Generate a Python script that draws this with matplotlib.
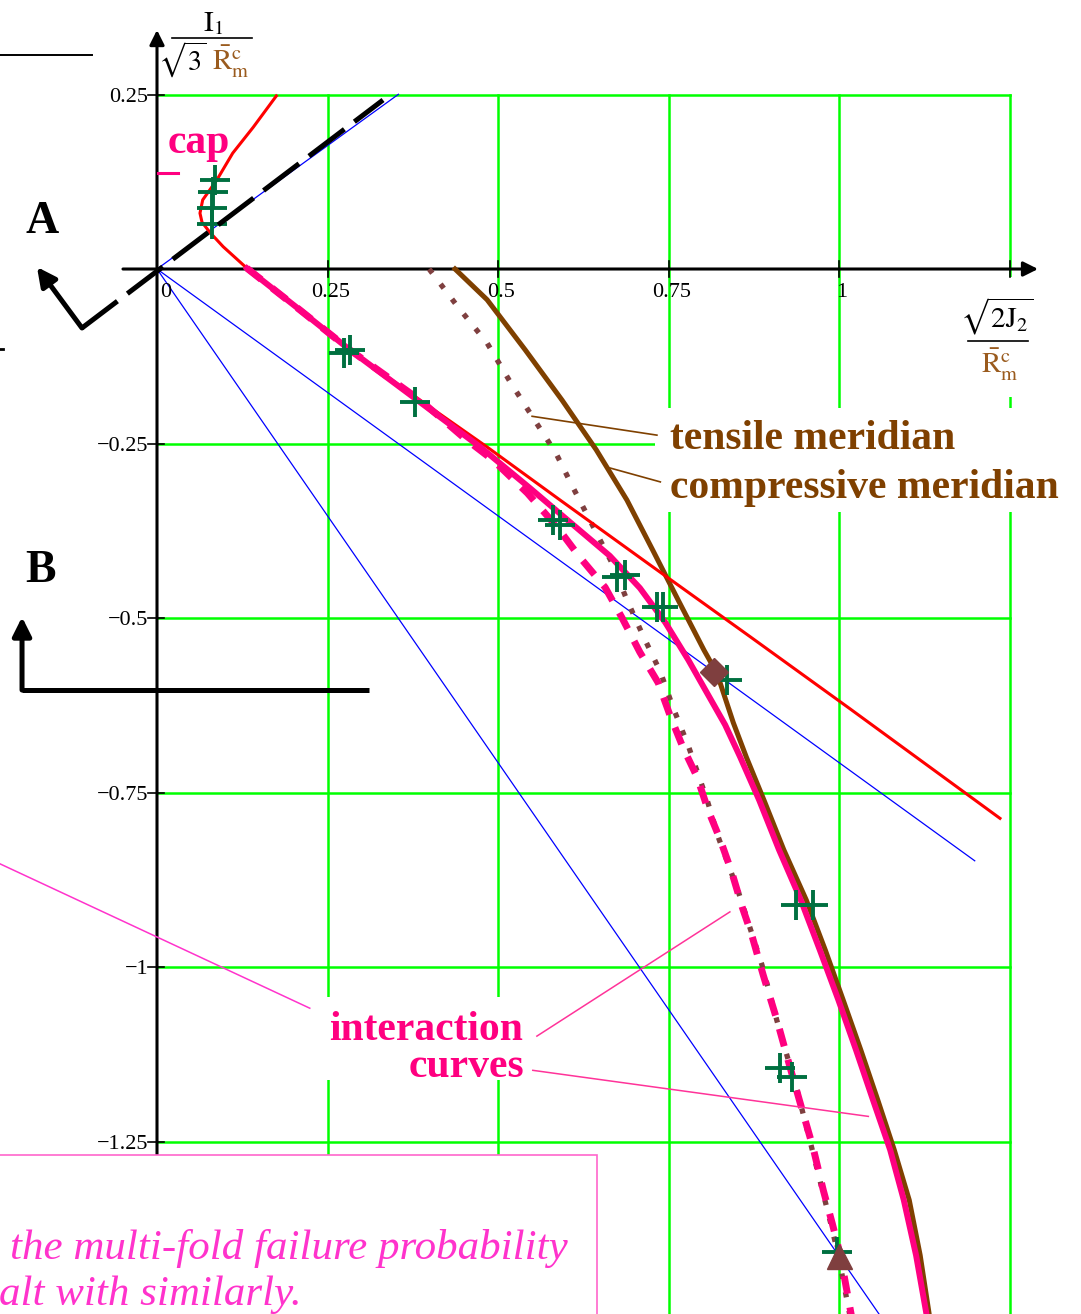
import numpy as np
import matplotlib.pyplot as plt
from matplotlib.patches import Rectangle

plt.rcParams['lines.scale_dashes'] = False
plt.rcParams['mathtext.fontset'] = 'stix'
plt.rcParams['font.family'] = ['Liberation Serif', 'DejaVu Serif']

# normalised stress invariants: x = sqrt(2 J2) / Rm_c, y = I1 / (sqrt(3) Rm_c)
grid_x = [0.25, 0.5, 0.75, 1.0, 1.25]
grid_y = [0.25, -0.25, -0.5, -0.75, -1.0, -1.25]
x_tick_labels = ['0.25', '0.5', '0.75', '1']
y_tick_labels = ['0.25', '\u22120.25', '\u22120.5', '\u22120.75', '\u22121', '\u22121.25']

# failure surface incl. cap
red_x = [0.175, 0.141, 0.111, 0.088, 0.067, 0.063, 0.066, 0.078, 0.097, 0.132,
         0.210, 0.283, 0.386, 0.484, 0.591, 0.723, 0.870, 1.016, 1.236]
red_y = [0.248, 0.203, 0.166, 0.128, 0.099, 0.080, 0.067, 0.052, 0.032, 0.001,
         -0.059, -0.116, -0.188, -0.255, -0.331, -0.424, -0.527, -0.630, -0.787]

# interaction curve (solid)
pink_x = [0.132, 0.210, 0.283, 0.386, 0.474, 0.547, 0.606, 0.664, 0.708, 0.745,
          0.779, 0.808, 0.833, 0.855, 0.883, 0.912, 0.944, 0.972, 0.999, 1.025,
          1.050, 1.075, 1.095, 1.113, 1.128, 1.132]
pink_y = [0.001, -0.059, -0.116, -0.191, -0.255, -0.314, -0.363, -0.411, -0.457, -0.506,
          -0.560, -0.610, -0.653, -0.699, -0.761, -0.832, -0.904, -0.976, -1.047, -1.119,
          -1.191, -1.262, -1.334, -1.413, -1.496, -1.527]

# interaction curve (dashed)
dash_x = [0.132, 0.210, 0.283, 0.386, 0.449, 0.493, 0.543, 0.587, 0.620, 0.657,
          0.682, 0.708, 0.735, 0.752, 0.771, 0.792, 0.808, 0.826, 0.843, 0.858,
          0.872, 0.889, 0.909, 0.928, 0.944, 0.962, 0.977, 0.990, 1.002, 1.022]
dash_y = [0.001, -0.059, -0.116, -0.188, -0.241, -0.274, -0.321, -0.370, -0.413, -0.456,
          -0.500, -0.549, -0.593, -0.639, -0.685, -0.728, -0.775, -0.818, -0.865, -0.914,
          -0.954, -1.012, -1.076, -1.143, -1.198, -1.259, -1.320, -1.367, -1.413, -1.520]

# compressive meridian
comp_x = [0.437, 0.484, 0.540, 0.594, 0.644, 0.689, 0.727, 0.764, 0.802, 0.821,
          0.845, 0.864, 0.890, 0.919, 0.952, 0.980, 1.006, 1.032, 1.057, 1.081,
          1.103, 1.119, 1.132, 1.136]
comp_y = [0.0, -0.044, -0.116, -0.188, -0.259, -0.331, -0.403, -0.474, -0.546, -0.579,
          -0.650, -0.699, -0.761, -0.832, -0.904, -0.976, -1.047, -1.119, -1.191, -1.262,
          -1.334, -1.413, -1.496, -1.527]

# tensile meridian
tens_x = [0.399, 0.441, 0.484, 0.518, 0.550, 0.585, 0.611, 0.639, 0.667, 0.689,
          0.713, 0.738, 0.757, 0.779, 0.807, 0.823, 0.853, 0.887, 0.909, 0.940,
          0.960, 0.987, 0.999, 1.020]
tens_y = [0.0, -0.054, -0.106, -0.162, -0.211, -0.264, -0.315, -0.368, -0.421, -0.474,
          -0.526, -0.577, -0.629, -0.683, -0.762, -0.814, -0.894, -0.997, -1.077, -1.182,
          -1.259, -1.364, -1.413, -1.520]

# test results
test_x = [0.085, 0.082, 0.081, 0.081, 0.283, 0.274, 0.378, 0.581, 0.591, 0.675,
          0.686, 0.733, 0.742, 0.836, 0.937, 0.962, 0.913, 0.931, 0.997]
test_y = [0.128, 0.110, 0.087, 0.065, -0.116, -0.120, -0.191, -0.360, -0.367, -0.441,
          -0.438, -0.484, -0.484, -0.589, -0.911, -0.911, -1.145, -1.158, -1.408]

# uniaxial compression and biaxial point
uni_pt = (0.8165, -0.5774)
bi_pt = (1.0, -1.414)

# reference lines through the origin
blue_slopes = [1 / np.sqrt(2), -1 / np.sqrt(2), -np.sqrt(2)]
blue_xend = [0.354, 1.199, 1.08]

fig = plt.figure(figsize=(10.81, 13.14), dpi=100)
ax = fig.add_axes([0, 0, 1, 1])
ax.set_xlim(-0.2302, 1.3548)
ax.set_ylim(-1.4971, 0.3854)
ax.axis('off')

green = '#00ff00'
pink = '#ff0080'
brown = '#7f4000'
maroon = '#7f3f3f'
rbrown = '#9a5b1e'

for gx in grid_x:
    ax.plot([gx, gx], [0.25, -1.55], color=green, lw=1.8, zorder=1)
for gy in grid_y:
    ax.plot([0, 1.25], [gy, gy], color=green, lw=1.8, zorder=1)

# white space behind labels
for (x0, y0, w, h) in [(0.7302, -0.3481, 0.70, 0.149),
                       (1.177, -0.1834, 0.20, 0.172),
                       (0.239, -1.162, 0.308, 0.119)]:
    ax.add_patch(Rectangle((x0, y0), w, h, facecolor='white', edgecolor='none', zorder=1.5))

# axes with arrows
ax.annotate('', xy=(0, 0.3424), xytext=(0, -1.30),
            arrowprops=dict(arrowstyle='-|>', color='k', lw=2.2, mutation_scale=22,
                            shrinkA=0, shrinkB=0), zorder=2.5)
ax.annotate('', xy=(1.2918, 0), xytext=(-0.0499, 0),
            arrowprops=dict(arrowstyle='-|>', color='k', lw=2.2, mutation_scale=22,
                            shrinkA=0, shrinkB=0), zorder=2.5)
for gx in grid_x:
    ax.plot([gx, gx], [0.011, -0.011], color='k', lw=1.2, zorder=2.6)
for gy in grid_y:
    ax.plot([-0.013, 0.010], [gy, gy], color='k', lw=1.2, zorder=2.6)

for gx, lab in zip(grid_x, x_tick_labels):
    ax.text(gx + 0.004, -0.020, lab, ha='center', va='top', fontsize=16, zorder=3)
ax.text(0.005, -0.020, '0', ha='left', va='top', fontsize=16, zorder=3)
for gy, lab in zip(grid_y, y_tick_labels):
    ax.text(-0.013, gy - 0.004, lab, ha='right', va='center', fontsize=16, zorder=3)

# axis titles
ax.text(0.0821, 0.352, r'$\mathrm{I}_1$', ha='center', va='center', fontsize=21, zorder=3)
ax.plot([0.022, 0.139], [0.331, 0.331], color='k', lw=1.2)
ax.text(0.037, 0.300, r'$\sqrt{3}$', ha='center', va='center', fontsize=20, zorder=3)
ax.text(0.080, 0.297, r'$\bar{\mathrm{R}}^{\mathrm{c}}_{\mathrm{m}}$', ha='left',
        va='center', fontsize=21, color=rbrown, zorder=3)
ax.text(1.232, -0.068, r'$\sqrt{2\mathrm{J}_2}$', ha='center', va='center', fontsize=21, zorder=3)
ax.plot([1.189, 1.277], [-0.103, -0.103], color='k', lw=1.2, zorder=3)
ax.text(1.236, -0.137, r'$\bar{\mathrm{R}}^{\mathrm{c}}_{\mathrm{m}}$', ha='center',
        va='center', fontsize=21, color=rbrown, zorder=3)

# reference lines
for k, xe in zip(blue_slopes, blue_xend):
    ax.plot([0, xe], [0, k * xe], color='#0000ff', lw=0.9, zorder=2)

ax.plot(tens_x, tens_y, color=maroon, lw=3.8, ls=(0, (3.8, 9.8)), zorder=3)
ax.plot(comp_x, comp_y, color=brown, lw=3.6, zorder=3)
ax.plot(red_x, red_y, color='#ff0000', lw=2.2, zorder=4)
ax.plot(dash_x, dash_y, color=pink, lw=5, ls=(0, (13, 10)), zorder=5)
ax.plot(pink_x, pink_y, color=pink, lw=4.3, zorder=5)
ax.plot(test_x, test_y, ls='none', marker='+', ms=21, mew=2.8, color='#007040', zorder=6)
ax.plot(*uni_pt, marker='D', ms=14, color=maroon, zorder=7)
ax.plot(*bi_pt, marker='^', ms=18, color=maroon, zorder=7)

# labels and leaders
ax.text(0.015, 0.166, 'cap', color=pink, fontsize=30, fontweight='bold', zorder=8)
ax.plot([0.0015, 0.031], [0.1375, 0.1375], color=pink, lw=2.2, zorder=8)
ax.text(0.752, -0.258, 'tensile meridian', color=brown, fontsize=30,
        fontweight='bold', zorder=8)
ax.text(0.752, -0.328, 'compressive meridian', color=brown, fontsize=30,
        fontweight='bold', zorder=8)
ax.plot([0.550, 0.733], [-0.211, -0.238], color=brown, lw=1.2, zorder=8)
ax.plot([0.664, 0.738], [-0.285, -0.305], color=brown, lw=1.2, zorder=8)

ax.text(0.537, -1.105, 'interaction', color=pink, fontsize=30, fontweight='bold',
        ha='right', zorder=8)
ax.text(0.538, -1.158, 'curves', color=pink, fontsize=30, fontweight='bold',
        ha='right', zorder=8)
ax.plot([-0.235, 0.224], [-0.850, -1.059], color='#ff33cc', lw=1.1, zorder=8)
ax.plot([0.557, 0.840], [-1.099, -0.921], color='#ff3399', lw=1.1, zorder=8)
ax.plot([0.551, 1.043], [-1.148, -1.214], color='#ff3399', lw=1.1, zorder=8)

# section markers
ax.plot([-0.235, -0.0953], [0.3066, 0.3066], color='k', lw=1.4, zorder=8)
ax.plot([-0.235, -0.226], [-0.1146, -0.1146], color='k', lw=2, zorder=8)
ax.text(-0.1686, 0.0516, 'A', fontsize=33, fontweight='bold', ha='center', zorder=8)
ax.text(-0.1701, -0.4484, 'B', fontsize=33, fontweight='bold', ha='center', zorder=8)
ax.annotate('', xy=(-0.1760, 0.0029), xytext=(-0.1100, -0.0845),
            arrowprops=dict(arrowstyle='-|>', color='k', lw=3.6, mutation_scale=28,
                            shrinkA=0, shrinkB=0), zorder=8)
ax.plot([-0.1100, 0.3314], [-0.0845, 0.2421], color='k', lw=3.6,
        ls=(0, (32, 9)), zorder=8)
ax.annotate('', xy=(-0.1979, -0.4986), xytext=(-0.1979, -0.6032),
            arrowprops=dict(arrowstyle='-|>', color='k', lw=3.6, mutation_scale=28,
                            shrinkA=0, shrinkB=0), zorder=8)
ax.plot([-0.1979, 0.3109], [-0.6032, -0.6032], color='k', lw=3.6,
        solid_capstyle='butt', zorder=8)

# caption box
ax.add_patch(Rectangle((-0.26, -1.60), 0.9052, 0.3307, facecolor='white',
                       edgecolor='#ff66cc', lw=1.2, zorder=9))
ax.text(-0.2155, -1.4183, 'the multi-fold failure probability', color='#ff33cc',
        fontsize=31, fontstyle='italic', zorder=10)
ax.text(-0.2320, -1.4842, 'alt with similarly.', color='#ff33cc',
        fontsize=31, fontstyle='italic', zorder=10)

fig.savefig('out.png', dpi=100, facecolor='white')
